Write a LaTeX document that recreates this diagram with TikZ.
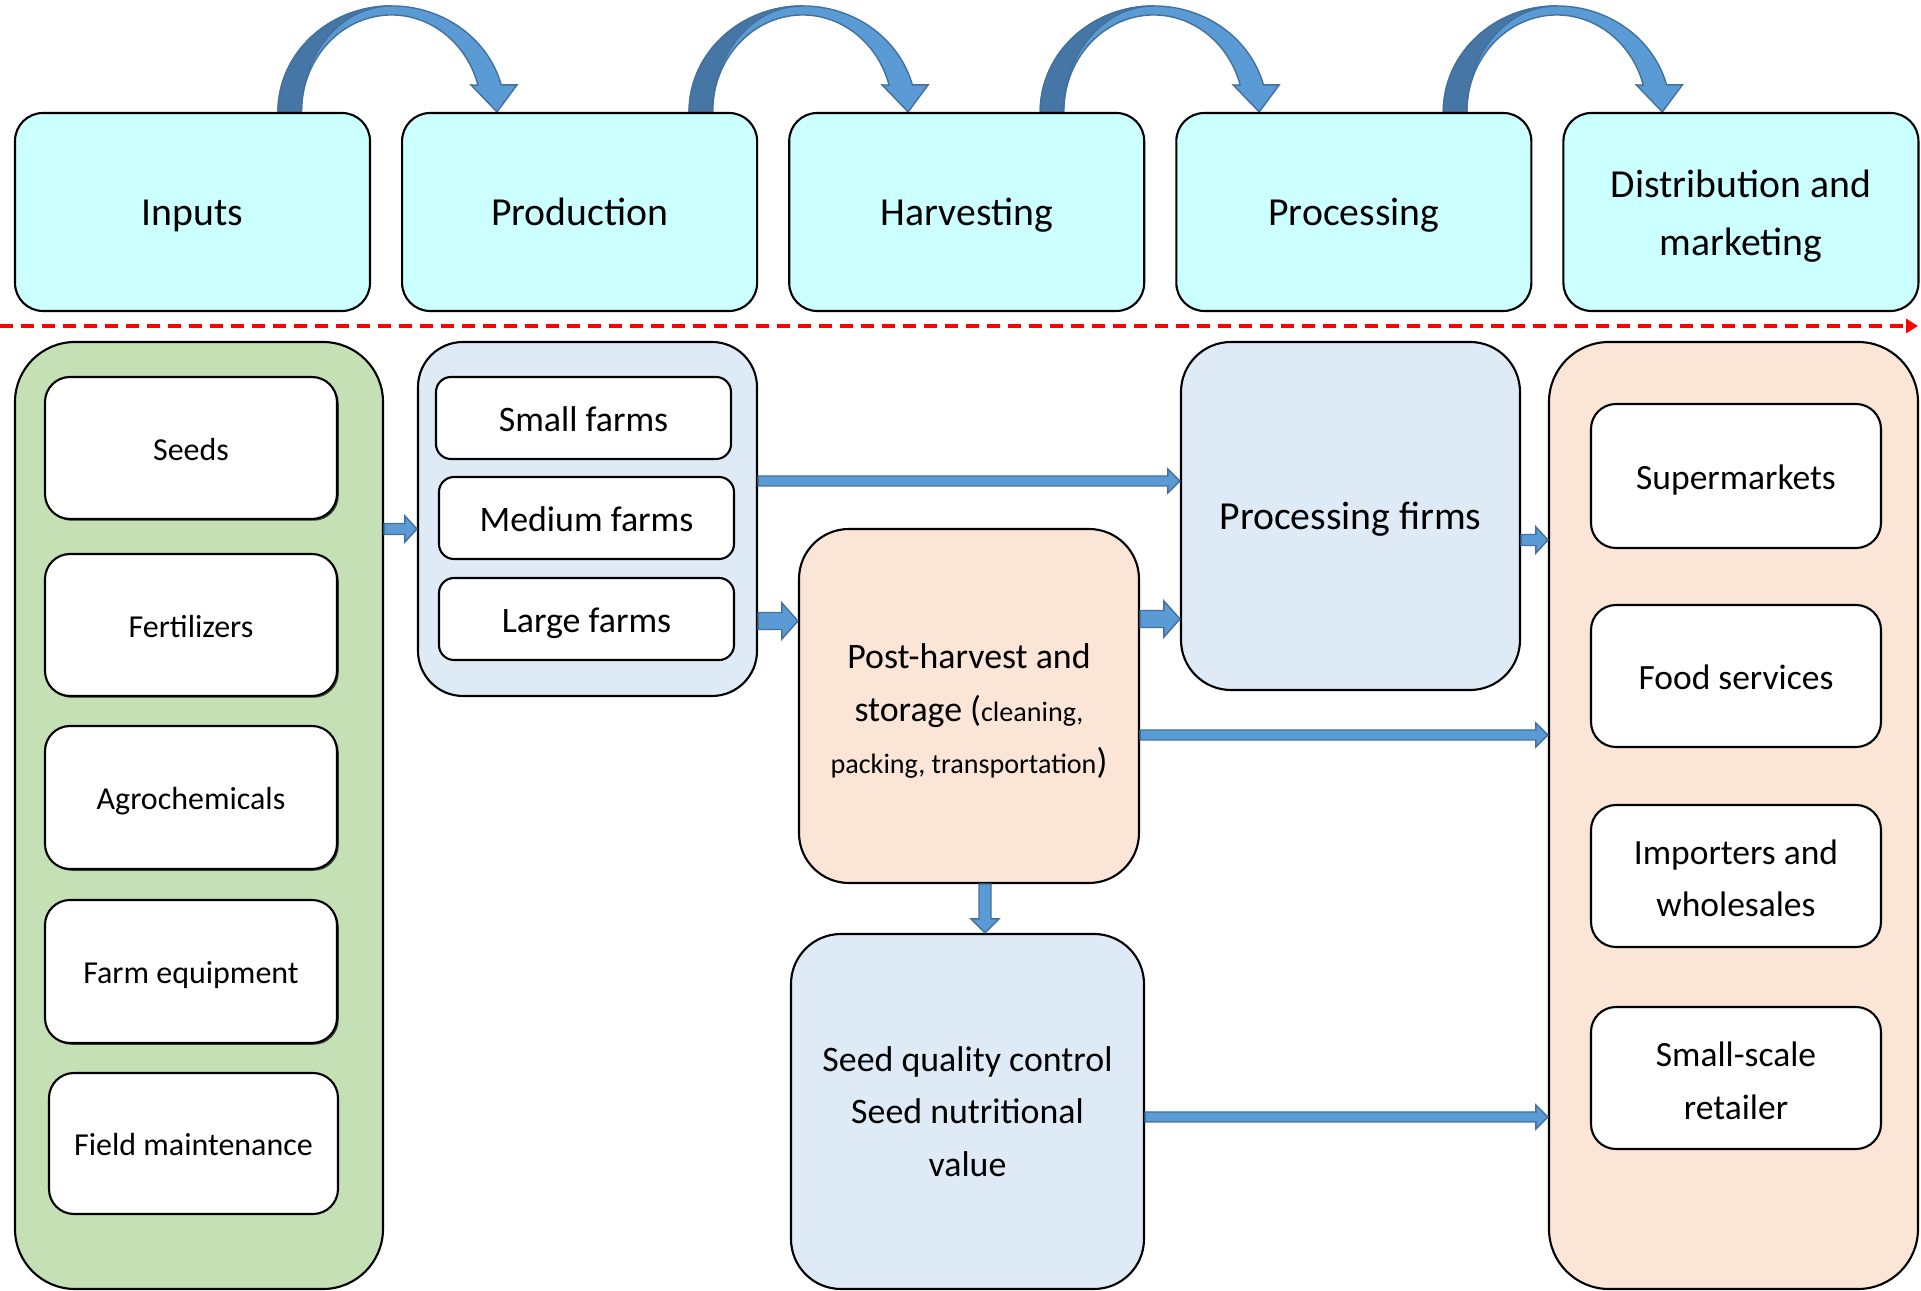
\documentclass[tikz,border=0pt]{standalone}
\usepackage{fontspec}
\setmainfont{Carlito}
\usetikzlibrary{arrows.meta, calc, positioning, backgrounds, shadows}

\definecolor{stagecyan}{HTML}{CCFFFF}
\definecolor{inputgreen}{HTML}{C5E0B4}
\definecolor{firmblue}{HTML}{DEEBF7}
\definecolor{peach}{HTML}{FBE5D6}
\definecolor{flowblue}{HTML}{5B9BD5}
\definecolor{flowedge}{HTML}{41719C}
\definecolor{flowback}{HTML}{4676A6}

\tikzset{
  oneline/.style={text height=0.97em, text depth=0.2em},
  stagebox/.style={draw, fill=stagecyan, line width=0.6pt, rounded corners=0.28cm, minimum width=3.55cm, minimum height=1.98cm, align=center, font=\fontsize{11.3}{16.4}\selectfont},
  stagelabel/.style={stagebox, oneline},
  groupbox/.style={draw, line width=0.6pt, rounded corners=0.6cm, align=center, font=\fontsize{10.2}{15.2}\selectfont},
  itembox/.style={draw, fill=white, line width=0.6pt, rounded corners=0.25cm, align=center, font=\fontsize{10.1}{15}\selectfont},
  inputbox/.style={itembox, text height=0.9em, text depth=0.2em, font=\fontsize{9.1}{13}\selectfont, minimum width=2.92cm, minimum height=1.42cm,
    drop shadow={shadow xshift=0.5pt, shadow yshift=-0.5pt, fill=black, opacity=0.7}},
  farmbox/.style={itembox, oneline, rounded corners=0.15cm, font=\fontsize{10.2}{15}\selectfont, minimum width=2.95cm, minimum height=0.82cm},
  % fat block arrow: shaft half width / head half width / head length
  blockarrow/.style args={#1/#2/#3}{fill=flowblue, draw=flowedge, line width=0.4pt,
    to path={($(\tikztotarget)!#3!(\tikztostart)$) coordinate (ahead)
      ($(\tikztostart)!#1!90:(\tikztotarget)$) -- ($(ahead)!#1!90:(\tikztotarget)$)
      -- ($(ahead)!#2!90:(\tikztotarget)$) -- (\tikztotarget)
      -- ($(ahead)!#2!-90:(\tikztotarget)$) -- ($(ahead)!#1!-90:(\tikztotarget)$)
      -- ($(\tikztostart)!#1!-90:(\tikztotarget)$) -- cycle}},
  flowthin/.style={blockarrow=0.05cm/0.12cm/0.12cm},
  flowshort/.style={blockarrow=0.055cm/0.13cm/0.12cm},
  flowwide/.style={blockarrow=0.085cm/0.18cm/0.16cm},
  flowdown/.style={blockarrow=0.06cm/0.14cm/0.14cm},
  % curved arrow hopping from one stage to the next
  flowarc/.pic={
    \filldraw[fill=flowblue, draw=flowedge, line width=0.4pt]
      (0,0) arc[start angle=180, end angle=14.75, x radius=1.135, y radius=1.06]
      -- (2.39,0.27) -- (2.19,0) -- (1.93,0.27) -- (2.0,0.267)
      arc[start angle=16, end angle=180, x radius=0.9, y radius=0.97] -- cycle;
    \filldraw[fill=flowback, draw=flowedge, line width=0.4pt]
      (0,0) arc[start angle=180, end angle=90, x radius=1.135, y radius=1.06]
      arc[start angle=90, end angle=180, x radius=0.9, y radius=1.06] -- cycle;
  }
}

\begin{document}
\begin{tikzpicture}
  \useasboundingbox (0,0) rectangle (19.21,-12.91);

  % value chain stages
  \node[stagelabel] (inputs) at (1.925,-2.12) {Inputs};
  \node[stagelabel, right=0.30cm of inputs] (production) {Production};
  \node[stagelabel, right=0.30cm of production] (harvesting) {Harvesting};
  \node[stagelabel, right=0.30cm of harvesting] (processing) {Processing};
  \node[stagebox, right=0.30cm of processing] (distribution) {\rule{0pt}{0.36cm}Distribution and\\marketing};

  \begin{scope}[on background layer]
    \pic at ($(inputs.north)+(0.855,0)$) {flowarc};
    \pic at ($(production.north)+(1.095,0)$) {flowarc};
    \pic at ($(harvesting.north)+(0.735,0)$) {flowarc};
    \pic at ($(processing.north)+(0.895,0)$) {flowarc};
  \end{scope}

  % divider
  \coordinate (divstart) at (0,-3.26);
  \coordinate (divend) at (19.18,-3.26);
  \draw[red, line width=0.9pt, dash pattern=on 0.13cm off 0.08cm, -{Triangle[length=0.12cm, width=0.14cm]}] (divstart) -- (divend);

  % inputs
  \node[groupbox, fill=inputgreen, minimum width=3.68cm, minimum height=9.47cm] (inpgrp) at (1.99,-8.155) {};
  \node[inputbox] (seeds) at (1.91,-4.48) {Seeds};
  \node[inputbox] (fertilizers) at (1.91,-6.25) {Fertilizers};
  \node[inputbox, minimum height=1.43cm] (agrochem) at (1.91,-7.975) {Agrochemicals};
  \node[inputbox, minimum height=1.43cm] (farmequip) at (1.91,-9.715) {Farm equipment};
  \node[itembox, text height=0.9em, text depth=0.2em, font=\fontsize{9.1}{13}\selectfont, minimum width=2.89cm, minimum height=1.41cm] (fieldmaint) at (1.935,-11.435) {Field maintenance};

  % farms
  \node[groupbox, fill=firmblue, rounded corners=0.45cm, minimum width=3.39cm, minimum height=3.54cm] (prodgrp) at (5.875,-5.19) {};
  \node[farmbox] (smallfarms) at (5.835,-4.18) {Small farms};
  \node[farmbox] (mediumfarms) at (5.865,-5.18) {Medium farms};
  \node[farmbox] (largefarms) at (5.865,-6.19) {Large farms};

  % harvesting and processing
  \node[groupbox, fill=peach, rounded corners=0.5cm, minimum width=3.40cm, minimum height=3.54cm, font=\fontsize{10.2}{14.9}\selectfont] (postharvest) at (9.69,-7.06)
    {\rule{0pt}{0.35cm}Post-harvest and\\storage ({\fontsize{8}{9.6}\selectfont cleaning,}\\{\fontsize{8}{9.6}\selectfont packing, transportation})};
  \node[groupbox, fill=firmblue, rounded corners=0.5cm, minimum width=3.53cm, minimum height=3.55cm, font=\fontsize{10.2}{15}\selectfont] (seedqc) at (9.675,-11.115)
    {Seed quality control\\Seed nutritional\\value};
  \node[groupbox, fill=firmblue, rounded corners=0.5cm, minimum width=3.39cm, minimum height=3.48cm, font=\fontsize{11.3}{16}\selectfont, oneline] (procfirms) at (13.505,-5.16) {Processing firms};

  % markets
  \node[groupbox, fill=peach, minimum width=3.69cm, minimum height=9.47cm] (distgrp) at (17.335,-8.155) {};
  \node[itembox, oneline, minimum width=2.90cm, minimum height=1.44cm] (supermarkets) at (17.36,-4.76) {Supermarkets};
  \node[itembox, oneline, minimum width=2.90cm, minimum height=1.42cm] (foodserv) at (17.36,-6.76) {Food services};
  \node[itembox, minimum width=2.90cm, minimum height=1.42cm] (importers) at (17.36,-8.76) {\rule{0pt}{0.29cm}Importers and\\wholesales};
  \node[itembox, minimum width=2.90cm, minimum height=1.42cm] (smallscale) at (17.36,-10.78) {\rule{0pt}{0.3cm}Small-scale\\retailer};

  % flows
  \draw[flowshort] ($(inpgrp.east)+(0,2.865)$) to ($(prodgrp.west)+(0,-0.10)$);
  \draw[flowthin] ($(prodgrp.east)+(0,0.38)$) to ($(procfirms.west)+(0,0.35)$);
  \draw[flowwide] ($(prodgrp.east)+(0,-1.02)$) to ($(postharvest.west)+(0,0.85)$);
  \draw[flowwide] ($(postharvest.east)+(0,0.87)$) to ($(procfirms.west)+(0,-1.03)$);
  \draw[flowshort] ($(procfirms.east)+(0,-0.24)$) to ($(distgrp.west)+(0,2.755)$);
  \draw[flowthin] ($(postharvest.east)+(0,-0.29)$) to ($(distgrp.west)+(0,0.805)$);
  \draw[flowdown] ($(postharvest.south)+(0.16,0)$) to ($(seedqc.north)+(0.175,0)$);
  \draw[flowthin] ($(seedqc.east)+(0,-0.055)$) to ($(distgrp.west)+(0,-3.015)$);
\end{tikzpicture}
\end{document}
